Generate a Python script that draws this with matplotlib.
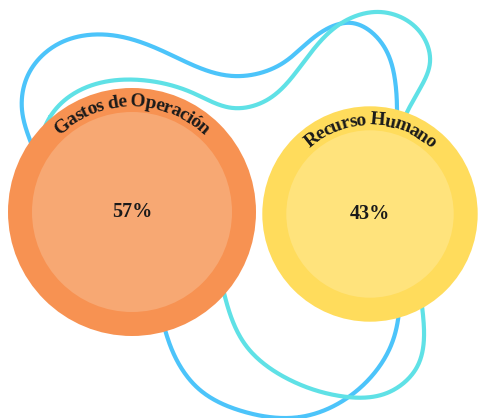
import numpy as np
import matplotlib.pyplot as plt
from matplotlib.patches import Circle

# data
categories = ["Gastos de Operación", "Recurso Humano"]
values = [57, 43]
labels = ["57%", "43%"]
outer_colors = ["#F79252", "#FFDC5C"]
inner_colors = ["#F7A873", "#FFE37C"]

W, H = 480, 418
fig = plt.figure(figsize=(W / 100, H / 100), dpi=100)
ax = fig.add_axes([0, 0, 1, 1])
ax.set_xlim(0, W)
ax.set_ylim(H, 0)
ax.set_aspect("equal")
ax.axis("off")


def closed_spline(pts, per_seg=40):
    # periodic cubic spline through the points (chord-length parameter)
    p = np.asarray(pts, float)
    n = len(p)
    h = np.hypot(*(np.roll(p, -1, axis=0) - p).T)
    A = np.zeros((n, n))
    rhs = np.zeros((n, 2))
    for i in range(n):
        hp, hi = h[i - 1], h[i]
        A[i, i - 1] += hp
        A[i, i] += 2 * (hp + hi)
        A[i, (i + 1) % n] += hi
        rhs[i] = 6 * ((p[(i + 1) % n] - p[i]) / hi - (p[i] - p[i - 1]) / hp)
    M = np.linalg.solve(A, rhs)
    out = []
    for i in range(n):
        j = (i + 1) % n
        s = np.linspace(0, 1, per_seg, endpoint=False)[:, None]
        hi = h[i]
        a = (1 - s)
        seg = (a * p[i] + s * p[j]
               + ((a ** 3 - a) * M[i] + (s ** 3 - s) * M[j]) * hi ** 2 / 6)
        out.append(seg)
    out = np.vstack(out + [out[0][:1]])
    return out[:, 0], out[:, 1]


# decorative loops behind the circles
blue_loop = [(300, 417), (360, 388), (392, 343), (398, 250), (396, 150), (395, 80),
             (383, 45), (352, 23), (320, 33), (283, 63), (233, 76), (167, 53),
             (110, 35), (60, 43), (28, 75), (22, 110), (33, 148), (70, 220),
             (150, 290), (170, 345), (200, 390), (245, 412)]
cyan_loop = [(50, 117), (87, 87), (150, 81), (193, 93), (233, 108), (267, 100),
             (300, 67), (340, 24), (380, 12), (420, 32), (430, 62), (418, 92),
             (400, 130), (405, 220), (423, 315), (417, 367), (387, 393), (340, 396),
             (290, 380), (247, 347), (225, 297), (190, 215), (40, 150)]
for pts, col in [(blue_loop, "#4CC4FA"), (cyan_loop, "#5FE1E6")]:
    xs, ys = closed_spline(pts)
    ax.plot(xs, ys, color=col, lw=3, zorder=1, solid_capstyle="round")

k = 124 / np.sqrt(max(values))
centers = [(132, 212), (370, 214)]
fig.canvas.draw()
rend = fig.canvas.get_renderer()
font = dict(family="Liberation Serif", weight="bold")


def text_w(s, size):
    t = ax.text(0, 0, "X" + s + "X", fontsize=size, **font)
    w = t.get_window_extent(rend).width
    t.remove()
    t = ax.text(0, 0, "XX", fontsize=size, **font)
    w0 = t.get_window_extent(rend).width
    t.remove()
    return w - w0


for cat, v, lab, oc, ic, (cx, cy) in zip(categories, values, labels, outer_colors, inner_colors, centers):
    r = k * np.sqrt(v)
    ri = r - 24
    ax.add_patch(Circle((cx, cy), r, color=oc, zorder=3, lw=0))
    ax.add_patch(Circle((cx, cy), ri, color=ic, zorder=4, lw=0))
    ax.text(cx, cy, lab, ha="center", va="center", fontsize=14.5, color="#1A1A1A",
            zorder=5, **font)
    # curved label along the ring
    size = 14
    R = r - 14
    total = text_w(cat, size) * 0.95
    for i, ch in enumerate(cat):
        mid = (text_w(cat[:i], size) + text_w(ch, size) / 2) * 0.95
        phi = (mid - total / 2) / R
        x = cx + R * np.sin(phi)
        y = cy - R * np.cos(phi)
        ax.text(x, y, ch, ha="center", va="center", rotation=-np.degrees(phi),
                rotation_mode="anchor", fontsize=size, color="#1A1A1A", zorder=5, **font)

fig.savefig("out.png", dpi=100)
